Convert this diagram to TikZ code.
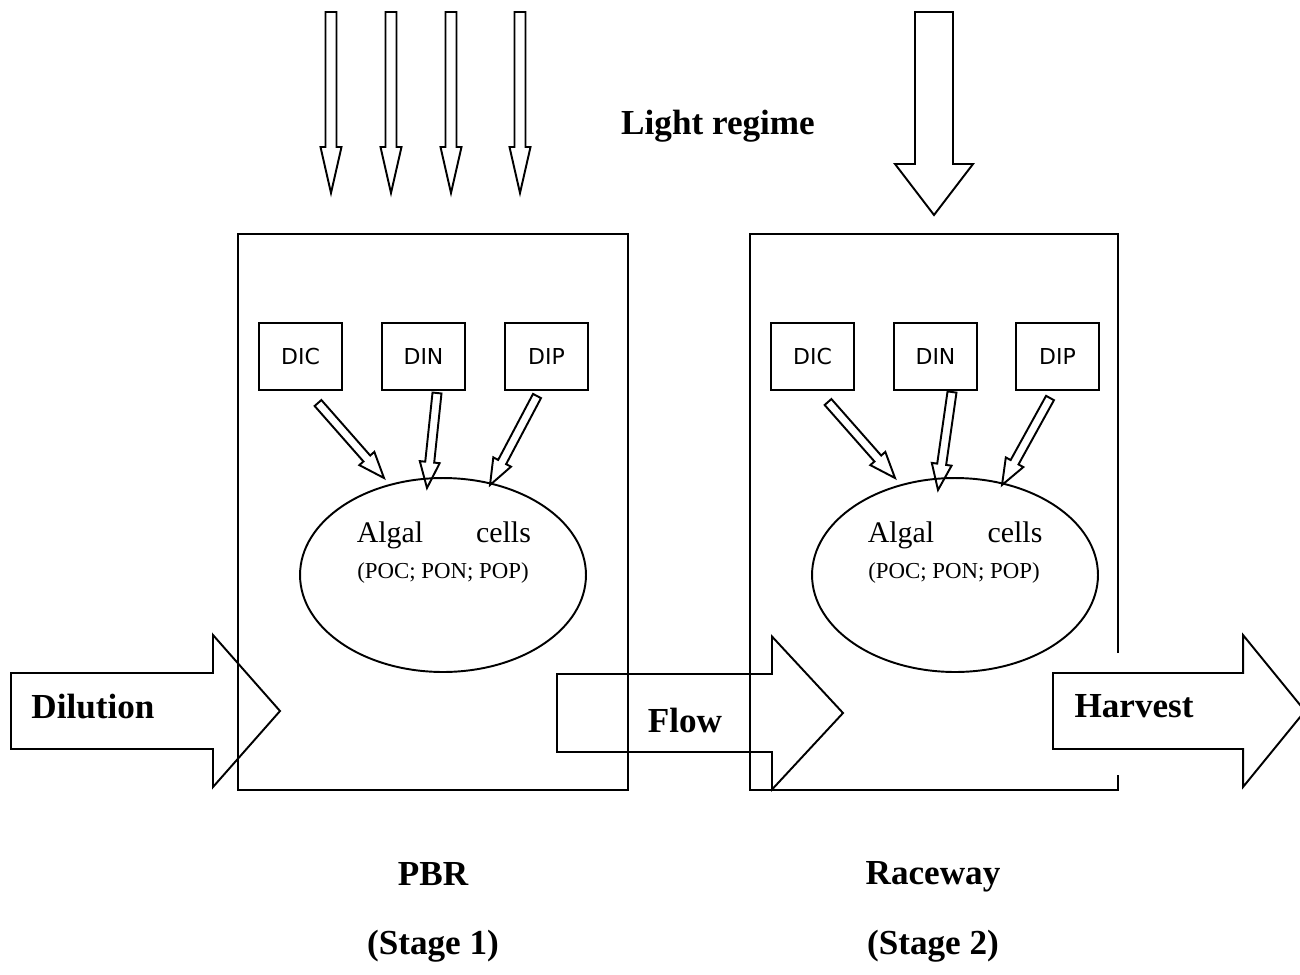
\documentclass[tikz,border=0pt]{standalone}
\usepackage{fontspec}
\setmainfont{Liberation Serif}
\newfontfamily\sansf{DejaVu Sans}
\usetikzlibrary{calc,shapes.geometric}
\newcommand{\hollowarrow}[5]{%
  \coordinate (hb) at ($(#2)!#5!(#1)$);
  \draw[arrline] ($(#1)!#3!90:(#2)$) -- ($(hb)!#3!90:(#2)$) -- ($(hb)!#4!90:(#2)$) -- (#2)
     -- ($(hb)!#4!-90:(#2)$) -- ($(hb)!#3!-90:(#2)$) -- ($(#1)!#3!-90:(#2)$) -- cycle;}
\tikzset{
  arrline/.style={line width=1.1pt, line join=miter},
  stagebox/.style={rectangle, inner sep=0pt, outer sep=0pt, minimum width=7.8cm, minimum height=11.12cm},
  nutbox/.style={rectangle, draw, line width=1.1pt, inner sep=0pt, outer sep=0pt, minimum width=1.66cm, minimum height=1.34cm, font=\sansf\fontsize{12.5}{14}\selectfont},
  cellell/.style={ellipse, draw, line width=1.1pt, inner sep=0pt, outer sep=0pt, minimum width=5.72cm, minimum height=3.88cm},
  bigtxt/.style={font=\fontsize{20}{24}\selectfont\bfseries, inner sep=0pt, anchor=base},
  celltxt/.style={font=\fontsize{17}{20}\selectfont, inner sep=0pt, anchor=base},
  poptxt/.style={font=\fontsize{13}{15}\selectfont, inner sep=0pt, anchor=base}
}
\begin{document}
\begin{tikzpicture}[x=0.02cm,y=-0.02cm]
\useasboundingbox (0,0) rectangle (1300,974);

% stage boxes
\node[stagebox, draw, line width=1.1pt] (pbr) at (433,512) {};
\node[stagebox, minimum width=7.36cm] (rw) at (934,512) {};
\draw[line width=1.1pt] (rw.east |- 0,653) -- (rw.north east) -- (rw.north west) -- (rw.south west) -- (rw.south east) -- (rw.east |- 0,775);

% light arrows
\coordinate (l1s) at (331,12); \coordinate (l1t) at (331,193);
\coordinate (l2s) at (391,12); \coordinate (l2t) at (391,193);
\coordinate (l3s) at (451,12); \coordinate (l3t) at (451,193);
\coordinate (l4s) at (520,12); \coordinate (l4t) at (520,193);
\hollowarrow{l1s}{l1t}{0.11cm}{0.21cm}{0.92cm}
\hollowarrow{l2s}{l2t}{0.11cm}{0.21cm}{0.92cm}
\hollowarrow{l3s}{l3t}{0.11cm}{0.21cm}{0.92cm}
\hollowarrow{l4s}{l4t}{0.11cm}{0.21cm}{0.92cm}
\coordinate (l5s) at (934,12); \coordinate (l5t) at (934,215);
\hollowarrow{l5s}{l5t}{0.38cm}{0.78cm}{1.02cm}
\node[bigtxt] (light) at (718,134) {Light regime};

% PBR contents
\node[nutbox] (pdic) at (300.5,356.5) {DIC};
\node[nutbox] (pdin) at (423.5,356.5) {DIN};
\node[nutbox] (pdip) at (546.5,356.5) {DIP};
\node[cellell] (pcell) at (443,575) {};
\node[celltxt] (palg) at (390,542) {Algal};
\node[celltxt] (pcel) at (503.5,542) {cells};
\node[poptxt] (ppop) at (443,578) {(POC; PON; POP)};
\coordinate (pa1s) at (318,403); \coordinate (pa1t) at (384,478);
\coordinate (pa2s) at (437,393); \coordinate (pa2t) at (427,488);
\coordinate (pa3s) at (537,396); \coordinate (pa3t) at (490,485);
\hollowarrow{pa1s}{pa1t}{0.09cm}{0.2cm}{0.52cm}
\hollowarrow{pa2s}{pa2t}{0.09cm}{0.2cm}{0.52cm}
\hollowarrow{pa3s}{pa3t}{0.09cm}{0.2cm}{0.52cm}

% Raceway contents
\node[nutbox] (rdic) at (812.5,356.5) {DIC};
\node[nutbox] (rdin) at (935.5,356.5) {DIN};
\node[nutbox] (rdip) at (1057.5,356.5) {DIP};
\node[cellell] (rcell) at (955,575) {};
\node[celltxt] (ralg) at (901,542) {Algal};
\node[celltxt] (rcel) at (1015,542) {cells};
\node[poptxt] (rpop) at (954,578) {(POC; PON; POP)};
\coordinate (ra1s) at (828,402); \coordinate (ra1t) at (895,478);
\coordinate (ra2s) at (952,392); \coordinate (ra2t) at (938,490);
\coordinate (ra3s) at (1050,398); \coordinate (ra3t) at (1002,485);
\hollowarrow{ra1s}{ra1t}{0.09cm}{0.2cm}{0.52cm}
\hollowarrow{ra2s}{ra2t}{0.09cm}{0.2cm}{0.52cm}
\hollowarrow{ra3s}{ra3t}{0.09cm}{0.2cm}{0.52cm}

% horizontal flows
\coordinate (ds) at (11,711); \coordinate (dt) at (280,711);
\hollowarrow{ds}{dt}{0.76cm}{1.52cm}{1.34cm}
\node[bigtxt] (dil) at (93,718) {Dilution};
\coordinate (fs) at (557,713); \coordinate (ft) at (843,713);
\hollowarrow{fs}{ft}{0.78cm}{1.53cm}{1.42cm}
\node[bigtxt] (flow) at (685,732) {Flow};
\coordinate (hs) at (1053,711); \coordinate (ht) at (1305,711);
\hollowarrow{hs}{ht}{0.76cm}{1.52cm}{1.24cm}
\node[bigtxt] (harv) at (1134,717) {Harvest};

% labels
\node[bigtxt] (pbrl) at (433,885) {PBR};
\node[bigtxt] (st1) at (433,954) {(Stage 1)};
\node[bigtxt] (rwl) at (933,884) {Raceway};
\node[bigtxt] (st2) at (933,954) {(Stage 2)};
\end{tikzpicture}
\end{document}
